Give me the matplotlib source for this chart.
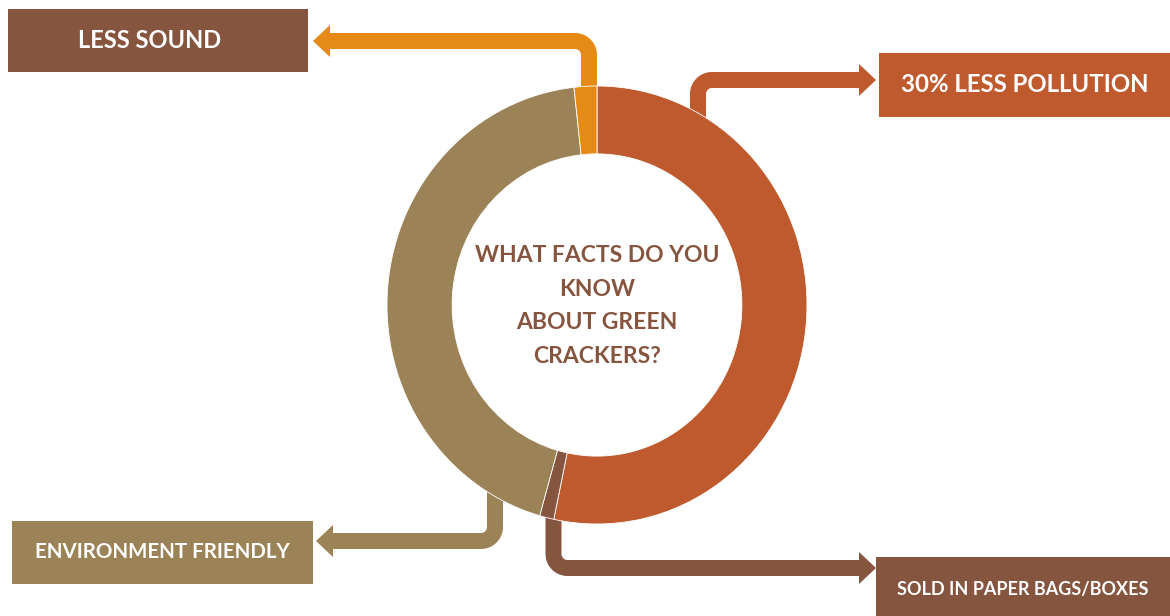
import numpy as np
import matplotlib
matplotlib.use("Agg")
from matplotlib import pyplot as plt
from matplotlib.patches import Wedge, Rectangle, Polygon
from matplotlib.transforms import Affine2D

# share of the ring, clockwise from 12 o'clock
facts = ["30% LESS POLLUTION", "SOLD IN PAPER BAGS/BOXES", "ENVIRONMENT FRIENDLY", "LESS SOUND"]
shares = [53.3, 1.1, 43.85, 1.75]
colors = ["#BE5A2E", "#85553F", "#9B8257", "#E58A16"]
center_text = "WHAT FACTS DO YOU\nKNOW\nABOUT GREEN\nCRACKERS?"

W, H = 1170, 616
fig = plt.figure(figsize=(W / 100, H / 100), dpi=100)
ax = fig.add_axes([0, 0, 1, 1])
ax.set_xlim(0, W)
ax.set_ylim(H, 0)
ax.axis("off")

cx, cy = 597, 305
rx, ry = 210, 219
hole = 0.69
ring = Affine2D().scale(rx, -ry).translate(cx, cy) + ax.transData

lw = 16 * 72 / 100  # 16 px wide connectors


def elbow(x0, y0, y1, x1, color, r=14):
    # vertical run, rounded corner, horizontal run, then arrow head at x1
    sy = np.sign(y1 - y0)
    sx = np.sign(x1 - x0)
    t = np.linspace(0, np.pi / 2, 20)
    ccx, ccy = x0 + sx * r, y1 - sy * r
    arc_x = ccx - sx * r * np.cos(t)
    arc_y = ccy + sy * r * np.sin(t)
    xs = np.concatenate([[x0], arc_x, [x1 - sx * 16]])
    ys = np.concatenate([[y0], arc_y, [y1]])
    ax.plot(xs, ys, color=color, lw=lw, solid_capstyle="butt",
            solid_joinstyle="round", zorder=1)
    head = [(x1, y1), (x1 - sx * 17, y1 - 16), (x1 - sx * 17, y1 + 16)]
    ax.add_patch(Polygon(head, closed=True, color=color, lw=0, zorder=1))


# connectors (drawn under the ring)
elbow(698, 150, 80, 876, colors[0])
elbow(553.5, 505, 568, 876, colors[1])
elbow(495, 480, 541, 316, colors[2])
elbow(589, 110, 41, 313, colors[3])

# the ring itself
start = 0.0
for share, col in zip(shares, colors):
    end = start + share * 3.6
    ax.add_patch(Wedge((0, 0), 1, 90 - end, 90 - start, width=1 - hole,
                       facecolor=col, edgecolor="white", lw=0.6,
                       transform=ring, zorder=2))
    start = end

ax.text(cx, cy + 1, center_text, ha="center", va="center", color="#85553F",
        fontsize=16.5, fontweight="bold", family="Lato", linespacing=1.75,
        zorder=3)

# label boxes: x0, y0, x1, y1, text size
boxes = [
    (879, 53, 1170, 117, 17.3),
    (876, 557, 1170, 616, 13),
    (12, 521, 313, 584, 14.8),
    (8, 9, 308, 72, 17),
]
for (x0, y0, x1, y1, fs), label, col in zip(boxes, facts, colors):
    box_col = "#85553F" if label == "LESS SOUND" else col
    ax.add_patch(Rectangle((x0, y0), x1 - x0, y1 - y0, facecolor=box_col,
                           edgecolor="none", zorder=2))
    ty = (y0 + y1) / 2 if y1 < H else 590
    tx = (x0 + x1) / 2
    if label == "LESS SOUND":
        tx = 150
    ax.text(tx, ty, label, ha="center", va="center", color="white",
            fontsize=fs, fontweight="bold", family="Lato", zorder=3)

fig.savefig("out.png", dpi=100, facecolor="white")
